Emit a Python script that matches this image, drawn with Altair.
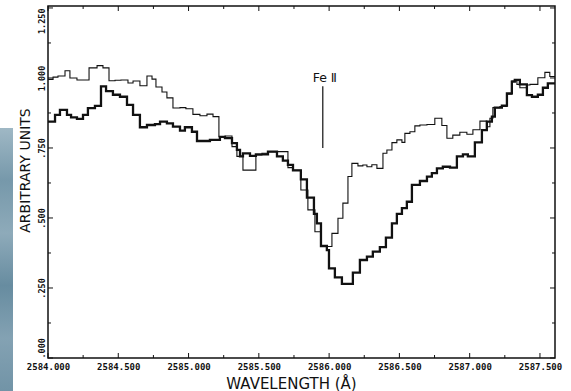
import altair as alt
import pandas as pd

# Spectrum with the narrower line profile (thin trace), step per detector bin
thin_wl = [2584.000, 2584.036, 2584.071, 2584.121, 2584.156, 2584.206, 2584.292, 2584.349,
           2584.391, 2584.434, 2584.477, 2584.519, 2584.569, 2584.605, 2584.654, 2584.704,
           2584.740, 2584.768, 2584.811, 2584.846, 2584.889, 2584.939, 2584.981, 2585.031,
           2585.081, 2585.131, 2585.174, 2585.216, 2585.259, 2585.309, 2585.344, 2585.387,
           2585.437, 2585.479, 2585.522, 2585.565, 2585.607, 2585.657, 2585.707, 2585.743,
           2585.799, 2585.849, 2585.899, 2585.942, 2585.984, 2586.020, 2586.063, 2586.098,
           2586.134, 2586.162, 2586.205, 2586.240, 2586.269, 2586.304, 2586.340, 2586.383,
           2586.411, 2586.447, 2586.482, 2586.518, 2586.539, 2586.575, 2586.610, 2586.646,
           2586.696, 2586.752, 2586.802, 2586.838, 2586.880, 2586.930, 2586.980, 2587.023,
           2587.073, 2587.122, 2587.144, 2587.165, 2587.215, 2587.265, 2587.300, 2587.336,
           2587.357, 2587.407, 2587.429, 2587.485, 2587.535, 2587.570, 2587.607]
thin_val = [0.995, 1.003, 1.007, 1.026, 1.000, 0.993, 1.036, 1.044,
            1.036, 0.990, 0.992, 0.993, 0.982, 0.989, 0.972, 1.007,
            0.996, 0.968, 0.950, 0.929, 0.893, 0.894, 0.890, 0.870,
            0.865, 0.871, 0.862, 0.790, 0.793, 0.755, 0.720, 0.671,
            0.671, 0.725, 0.731, 0.737, 0.737, 0.737, 0.680, 0.670,
            0.600, 0.529, 0.451, 0.398, 0.398, 0.445, 0.499, 0.553,
            0.648, 0.695, 0.686, 0.689, 0.683, 0.690, 0.677, 0.731,
            0.743, 0.769, 0.779, 0.770, 0.802, 0.808, 0.829, 0.832,
            0.834, 0.856, 0.830, 0.785, 0.796, 0.806, 0.799, 0.815,
            0.846, 0.826, 0.856, 0.894, 0.898, 0.942, 0.989, 0.977,
            0.965, 0.975, 0.977, 1.001, 1.020, 1.005, 1.005]

# Spectrum with the broad absorption (thick trace)
thick_wl = [2584.000, 2584.050, 2584.085, 2584.135, 2584.164, 2584.206, 2584.249, 2584.284,
            2584.334, 2584.377, 2584.413, 2584.462, 2584.512, 2584.562, 2584.605, 2584.654,
            2584.704, 2584.761, 2584.797, 2584.846, 2584.889, 2584.939, 2584.974, 2585.024,
            2585.060, 2585.152, 2585.223, 2585.259, 2585.309, 2585.344, 2585.366, 2585.387,
            2585.437, 2585.479, 2585.565, 2585.629, 2585.671, 2585.707, 2585.743, 2585.799,
            2585.842, 2585.892, 2585.913, 2585.942, 2585.984, 2585.999, 2586.041, 2586.091,
            2586.169, 2586.219, 2586.269, 2586.311, 2586.361, 2586.404, 2586.447, 2586.482,
            2586.518, 2586.553, 2586.589, 2586.646, 2586.696, 2586.731, 2586.767, 2586.809,
            2586.860, 2586.909, 2586.952, 2586.987, 2587.037, 2587.087, 2587.122, 2587.158,
            2587.179, 2587.229, 2587.265, 2587.300, 2587.321, 2587.357, 2587.407, 2587.443,
            2587.485, 2587.521, 2587.556, 2587.607]
thick_val = [0.844, 0.868, 0.886, 0.868, 0.859, 0.854, 0.868, 0.892,
             0.900, 0.970, 0.953, 0.940, 0.933, 0.904, 0.868, 0.824,
             0.832, 0.835, 0.844, 0.838, 0.826, 0.812, 0.824, 0.808,
             0.775, 0.779, 0.790, 0.785, 0.767, 0.743, 0.720, 0.731,
             0.722, 0.727, 0.737, 0.720, 0.705, 0.690, 0.670, 0.638,
             0.573, 0.515, 0.481, 0.400, 0.385, 0.320, 0.288, 0.265,
             0.305, 0.350, 0.362, 0.380, 0.396, 0.430, 0.481, 0.515,
             0.535, 0.558, 0.618, 0.632, 0.648, 0.660, 0.677, 0.683,
             0.680, 0.720, 0.727, 0.720, 0.770, 0.814, 0.844, 0.862,
             0.894, 0.901, 0.945, 0.987, 0.993, 0.977, 0.939, 0.933,
             0.940, 0.965, 0.981, 0.981]

# Axis ticks
x_major = [2584.0, 2584.5, 2585.0, 2585.5, 2586.0, 2586.5, 2587.0, 2587.5]
x_minor = [2584.25, 2584.75, 2585.25, 2585.75, 2586.25, 2586.75, 2587.25]
y_major = [0.0, 0.25, 0.5, 0.75, 1.0, 1.25]
y_minor = [0.125, 0.375, 0.625, 0.875, 1.125]

# Line identification marker
ion_label = "Fe Ⅱ"
ion_wl = 2585.955
ion_lo, ion_hi = 0.75, 0.97
ion_label_y = 0.987

W, H = 507, 352
INK = "#111111"

xs = alt.Scale(domain=[2584.0, 2587.607], nice=False, zero=False)
ys = alt.Scale(domain=[0.0, 1.257], nice=False, zero=False)

x_axis = alt.Axis(
    values=x_major, format=".3f", ticks=False, domain=False, grid=False,
    labelFont="DejaVu Sans Mono", labelFontWeight="bold", labelFontSize=9,
    labelColor=INK, labelPadding=4, labelOverlap=False, labelFlush=False,
    title="WAVELENGTH (Å)", titleFont="DejaVu Sans", titleFontWeight="normal",
    titleFontSize=15, titleColor=INK, titlePadding=5, titleX=243,
)
y_axis = alt.Axis(
    values=y_major, ticks=False, domain=False, grid=False,
    labelExpr="datum.value < 1 ? substring(format(datum.value, '.3f'), 1) : format(datum.value, '.3f')",
    labelAngle=270, labelBaseline="bottom",
    labelAlign={"condition": [{"test": "datum.value <= 0", "value": "left"},
                              {"test": "datum.value >= 1.25", "value": "right"}],
                "value": "center"},
    labelFont="DejaVu Sans Mono", labelFontWeight="bold", labelFontSize=8.5,
    labelColor=INK, labelPadding=2, labelOverlap=False,
    title="ARBITRARY UNITS", titleFont="DejaVu Sans", titleFontWeight="normal",
    titleFontSize=14, titleColor=INK, titlePadding=5, titleY=164,
)

thin_df = pd.DataFrame({"wl": thin_wl, "v": thin_val})
thick_df = pd.DataFrame({"wl": thick_wl, "v": thick_val})

thin = alt.Chart(thin_df).mark_line(interpolate="step-after", color=INK, strokeWidth=1.1).encode(
    x=alt.X("wl:Q", scale=xs, axis=x_axis),
    y=alt.Y("v:Q", scale=ys, axis=y_axis),
)
thick = alt.Chart(thick_df).mark_line(interpolate="step-after", color=INK, strokeWidth=2.3).encode(
    x=alt.X("wl:Q", scale=xs),
    y=alt.Y("v:Q", scale=ys),
)

# Inward-pointing tick marks on all four sides of the frame
def xticks(vals, length):
    d = pd.DataFrame({"t": vals})
    bottom = alt.Chart(d).mark_rule(color=INK, strokeWidth=1).encode(
        x=alt.X("t:Q", scale=xs), y=alt.value(H), y2=alt.value(H - length))
    top = alt.Chart(d).mark_rule(color=INK, strokeWidth=1).encode(
        x=alt.X("t:Q", scale=xs), y=alt.value(0), y2=alt.value(length))
    return [bottom, top]

def yticks(vals, length):
    d = pd.DataFrame({"t": vals})
    left = alt.Chart(d).mark_rule(color=INK, strokeWidth=1).encode(
        y=alt.Y("t:Q", scale=ys), x=alt.value(0), x2=alt.value(length))
    right = alt.Chart(d).mark_rule(color=INK, strokeWidth=1).encode(
        y=alt.Y("t:Q", scale=ys), x=alt.value(W), x2=alt.value(W - length))
    return [left, right]

tick_layers = xticks(x_major, 5) + xticks(x_minor, 3) + yticks(y_major, 5) + yticks(y_minor, 3)

ion_df = pd.DataFrame({"wl": [ion_wl], "lo": [ion_lo], "hi": [ion_hi],
                       "ly": [ion_label_y], "txt": [ion_label]})
ion_rule = alt.Chart(ion_df).mark_rule(color=INK, strokeWidth=1.2).encode(
    x=alt.X("wl:Q", scale=xs), y=alt.Y("lo:Q", scale=ys), y2="hi:Q")
ion_text = alt.Chart(ion_df).mark_text(
    font="DejaVu Sans", fontSize=12.5, color=INK, align="center", baseline="alphabetic", dx=2
).encode(x=alt.X("wl:Q", scale=xs), y=alt.Y("ly:Q", scale=ys), text="txt:N")

# Scanned-page edge on the left margin
edge = alt.Chart(pd.DataFrame({"k": [0]})).mark_rect(
    fill=alt.LinearGradient(
        gradient="linear", x1=0, y1=0, x2=0, y2=1,
        stops=[alt.GradientStop(color="#9ab4c2", offset=0.0),
               alt.GradientStop(color="#6f93a6", offset=0.2),
               alt.GradientStop(color="#88a6b6", offset=0.4),
               alt.GradientStop(color="#5f869b", offset=0.6),
               alt.GradientStop(color="#7d9daf", offset=0.8),
               alt.GradientStop(color="#6a8ea2", offset=1.0)]),
    opacity=0.95,
).encode(x=alt.value(-48), x2=alt.value(-35), y=alt.value(122), y2=alt.value(385))

chart = alt.layer(
    edge, thin, thick, *tick_layers, ion_rule, ion_text
).properties(
    width=W, height=H,
    autosize=alt.AutoSizeParams(type="none"),
    padding={"left": 48, "top": 6, "right": 16, "bottom": 33},
    background="white",
).configure_view(stroke=INK, strokeWidth=1.5)

chart.save("out.html", embed_options={"renderer": "svg", "actions": False})
